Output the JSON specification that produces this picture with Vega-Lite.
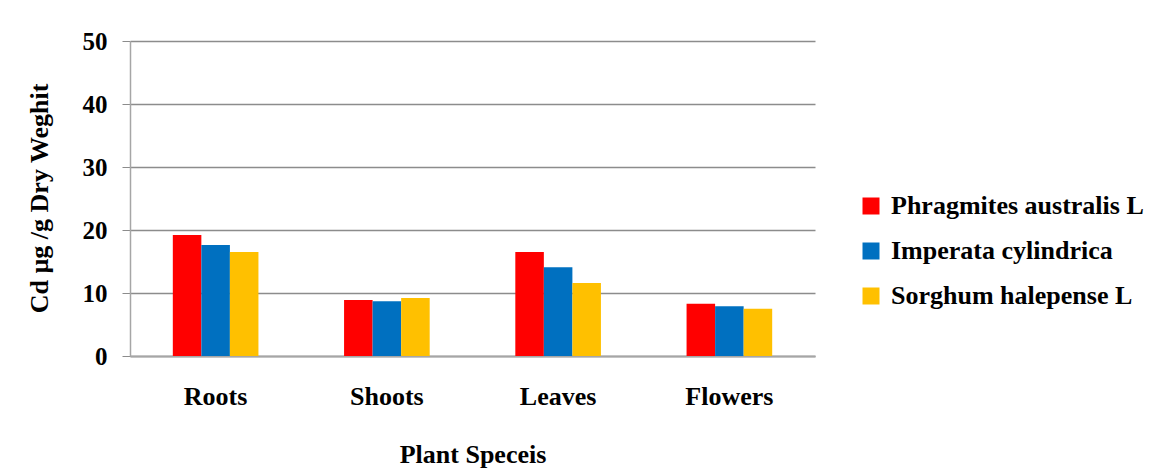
{
  "$schema": "https://vega.github.io/schema/vega-lite/v6.json",
  "width": 685,
  "height": 315,
  "autosize": {"type": "none"},
  "padding": {"left": 130, "top": 41, "right": 340, "bottom": 115},
  "background": "white",
  "config": {
    "view": {"stroke": null},
    "font": "Times New Roman, Liberation Serif, serif"
  },
  "data": {
    "values": [
      {"part": "Roots", "species": "Phragmites australis L", "value": 19.2},
      {"part": "Roots", "species": "Imperata cylindrica", "value": 17.6},
      {"part": "Roots", "species": "Sorghum halepense L", "value": 16.5},
      {"part": "Shoots", "species": "Phragmites australis L", "value": 8.9},
      {"part": "Shoots", "species": "Imperata cylindrica", "value": 8.7},
      {"part": "Shoots", "species": "Sorghum halepense L", "value": 9.2},
      {"part": "Leaves", "species": "Phragmites australis L", "value": 16.5},
      {"part": "Leaves", "species": "Imperata cylindrica", "value": 14.1},
      {"part": "Leaves", "species": "Sorghum halepense L", "value": 11.6},
      {"part": "Flowers", "species": "Phragmites australis L", "value": 8.3},
      {"part": "Flowers", "species": "Imperata cylindrica", "value": 7.9},
      {"part": "Flowers", "species": "Sorghum halepense L", "value": 7.5}
    ]
  },
  "mark": {"type": "bar"},
  "encoding": {
    "x": {
      "field": "part",
      "type": "nominal",
      "sort": ["Roots", "Shoots", "Leaves", "Flowers"],
      "scale": {"paddingInner": 0.5, "paddingOuter": 0.25},
      "axis": {
        "title": "Plant Speceis",
        "labelAngle": 0,
        "ticks": false,
        "domainColor": "#a6a6a6",
        "domainWidth": 2,
        "labelFont": "Times New Roman, Liberation Serif, serif",
        "labelFontSize": 26,
        "labelFontWeight": "bold",
        "labelColor": "black",
        "labelPadding": 27,
        "titleFont": "Times New Roman, Liberation Serif, serif",
        "titleFontSize": 26,
        "titleFontWeight": "bold",
        "titleColor": "black",
        "titlePadding": 32
      }
    },
    "xOffset": {
      "field": "species",
      "sort": ["Phragmites australis L", "Imperata cylindrica", "Sorghum halepense L"],
      "scale": {"paddingInner": 0, "paddingOuter": 0}
    },
    "y": {
      "field": "value",
      "type": "quantitative",
      "scale": {"domain": [0, 50]},
      "axis": {
        "title": "Cd µg /g Dry Weghit",
        "values": [0, 10, 20, 30, 40, 50],
        "grid": true,
        "gridColor": "#8c8c8c",
        "gridWidth": 1.5,
        "domainColor": "#a6a6a6",
        "domainWidth": 1.5,
        "tickColor": "#8c8c8c",
        "tickSize": 8,
        "labelFont": "Times New Roman, Liberation Serif, serif",
        "labelFontSize": 25,
        "labelFontWeight": "bold",
        "labelColor": "black",
        "labelPadding": 15,
        "titleFont": "Times New Roman, Liberation Serif, serif",
        "titleFontSize": 26,
        "titleFontWeight": "bold",
        "titleColor": "black",
        "titleX": -91,
        "titleY": 157,
        "titleAlign": "center",
        "titleBaseline": "middle"
      }
    },
    "color": {
      "field": "species",
      "type": "nominal",
      "sort": ["Phragmites australis L", "Imperata cylindrica", "Sorghum halepense L"],
      "scale": {
        "domain": ["Phragmites australis L", "Imperata cylindrica", "Sorghum halepense L"],
        "range": ["#FF0000", "#0070C0", "#FFC000"]
      },
      "legend": {
        "title": null,
        "orient": "none",
        "legendX": 728,
        "legendY": 152,
        "symbolType": "square",
        "symbolSize": 289,
        "symbolStrokeWidth": 0,
        "labelFont": "Times New Roman, Liberation Serif, serif",
        "labelFontSize": 26,
        "labelFontWeight": "bold",
        "labelColor": "black",
        "labelOffset": 7,
        "rowPadding": 19,
        "labelLimit": 400
      }
    }
  }
}
